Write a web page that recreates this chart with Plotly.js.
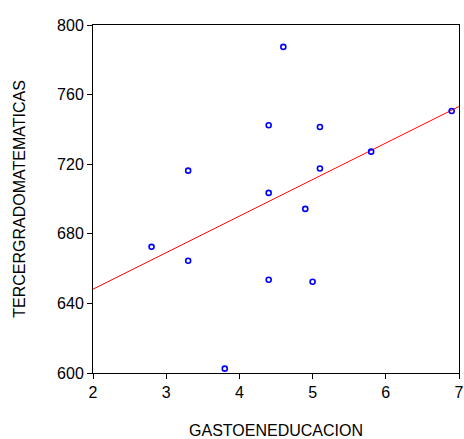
<!DOCTYPE html>
<html>
<head>
<meta charset="utf-8">
<script src="https://cdn.plot.ly/plotly-3.0.1.min.js"></script>
<style>html,body{margin:0;padding:0;background:#fff;}#chart{width:464px;height:439px;}</style>
</head>
<body>
<div id="chart"></div>
<script>
var gastoEducacion = [4.6, 4.4, 5.1, 6.9, 5.8, 3.3, 5.1, 4.4, 4.9, 2.8, 3.3, 4.4, 5.0, 3.8];
var tercerGradoMatematicas = [787.4, 742.4, 741.4, 750.6, 727.2, 716.3, 717.5, 703.5, 694.3, 672.5, 664.5, 653.6, 652.4, 602.5];
var xTickVals = [2, 3, 4, 5, 6, 7];
var yTickVals = [600, 640, 680, 720, 760, 800];
var xRange = [2, 7];
var yRange = [600, 800];

// Ordinary least squares fit line
var n = gastoEducacion.length;
var mx = gastoEducacion.reduce(function(a,b){return a+b;},0)/n;
var my = tercerGradoMatematicas.reduce(function(a,b){return a+b;},0)/n;
var sxy = 0, sxx = 0;
for (var i = 0; i < n; i++) {
  sxy += (gastoEducacion[i]-mx)*(tercerGradoMatematicas[i]-my);
  sxx += (gastoEducacion[i]-mx)*(gastoEducacion[i]-mx);
}
var slope = sxy/sxx, intercept = my - slope*mx;
var fitX = xRange.slice();
var fitY = fitX.map(function(x){return intercept + slope*x;});

var font = {family: 'Liberation Sans, Arial, sans-serif', size: 16, color: '#000'};
var titleFont = {family: 'Liberation Sans, Arial, sans-serif', size: 16, color: '#000'};

var traces = [
  {x: fitX, y: fitY, mode: 'lines', line: {color: '#ff0000', width: 1}, hoverinfo: 'skip'},
  {x: gastoEducacion, y: tercerGradoMatematicas, mode: 'markers',
   marker: {symbol: 'circle-open', size: 5, color: '#0000ff', line: {width: 1.6, color: '#0000ff'}}}
];

var layout = {
  width: 464, height: 439,
  margin: {l: 93, r: 5, t: 25, b: 66, pad: 0},
  paper_bgcolor: '#fff', plot_bgcolor: '#fff',
  showlegend: false,
  font: font,
  xaxis: {
    range: xRange, tickvals: xTickVals, ticktext: xTickVals.map(String),
    showgrid: false, zeroline: false, showline: true, mirror: true,
    linecolor: '#000', linewidth: 1, ticks: 'outside', ticklen: 5, tickcolor: '#000',
    tickfont: font,
    title: {text: 'GASTOENEDUCACION', font: titleFont, standoff: 25}
  },
  yaxis: {
    range: yRange, tickvals: yTickVals, ticktext: yTickVals.map(String),
    showgrid: false, zeroline: false, showline: true, mirror: true,
    linecolor: '#000', linewidth: 1, ticks: 'outside', ticklen: 5, tickcolor: '#000',
    tickfont: font,
    title: {text: 'TERCERGRADOMATEMATICAS', font: titleFont, standoff: 27}
  }
};

Plotly.newPlot('chart', traces, layout, {displayModeBar: false, staticPlot: true});
</script>
</body>
</html>
